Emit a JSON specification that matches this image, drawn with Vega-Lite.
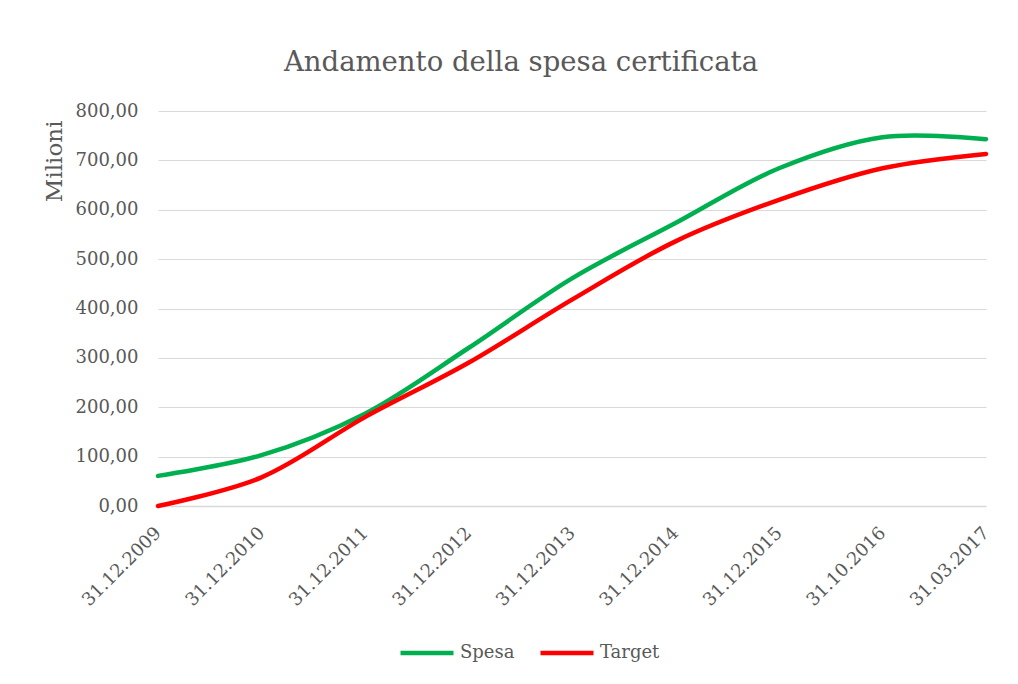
{
  "$schema": "https://vega.github.io/schema/vega-lite/v6.json",
  "width": 828,
  "height": 395,
  "autosize": "none",
  "padding": {"left": 158, "top": 111, "right": 32, "bottom": 178},
  "background": "white",
  "title": {
    "text": "Andamento  della spesa certificata",
    "font": "DejaVu Serif",
    "fontSize": 27.5,
    "fontWeight": "normal",
    "color": "#595959",
    "anchor": "middle",
    "dx": -51,
    "offset": 26
  },
  "data": {
    "values": [
      {"data": "31.12.2009", "serie": "Spesa", "valore": 61},
      {"data": "31.12.2010", "serie": "Spesa", "valore": 103},
      {"data": "31.12.2011", "serie": "Spesa", "valore": 187},
      {"data": "31.12.2012", "serie": "Spesa", "valore": 320},
      {"data": "31.12.2013", "serie": "Spesa", "valore": 461},
      {"data": "31.12.2014", "serie": "Spesa", "valore": 573},
      {"data": "31.12.2015", "serie": "Spesa", "valore": 684},
      {"data": "31.10.2016", "serie": "Spesa", "valore": 747},
      {"data": "31.03.2017", "serie": "Spesa", "valore": 743},
      {"data": "31.12.2009", "serie": "Target", "valore": 0},
      {"data": "31.12.2010", "serie": "Target", "valore": 58},
      {"data": "31.12.2011", "serie": "Target", "valore": 180},
      {"data": "31.12.2012", "serie": "Target", "valore": 290},
      {"data": "31.12.2013", "serie": "Target", "valore": 418},
      {"data": "31.12.2014", "serie": "Target", "valore": 536},
      {"data": "31.12.2015", "serie": "Target", "valore": 620},
      {"data": "31.10.2016", "serie": "Target", "valore": 684},
      {"data": "31.03.2017", "serie": "Target", "valore": 713}
    ]
  },
  "mark": {"type": "line", "interpolate": "catmull-rom", "strokeWidth": 4.5, "strokeCap": "round"},
  "encoding": {
    "x": {
      "field": "data",
      "type": "ordinal",
      "sort": ["31.12.2009", "31.12.2010", "31.12.2011", "31.12.2012", "31.12.2013", "31.12.2014", "31.12.2015", "31.10.2016", "31.03.2017"],
      "scale": {"type": "point", "padding": 0},
      "axis": {
        "title": null,
        "labelAngle": -45,
        "labelAlign": "right",
        "labelBaseline": "middle",
        "labelPadding": 24,
        "labelFont": "DejaVu Serif",
        "labelFontSize": 18,
        "labelColor": "#595959",
        "ticks": false,
        "domain": true,
        "domainColor": "#D9D9D9",
        "domainWidth": 1.5,
        "grid": false
      }
    },
    "y": {
      "field": "valore",
      "type": "quantitative",
      "scale": {"domain": [0, 800], "nice": false},
      "axis": {
        "title": "Milioni",
        "titleFont": "DejaVu Serif",
        "titleFontSize": 23,
        "titleFontWeight": "normal",
        "titleColor": "#595959",
        "titleAngle": -90,
        "titleAlign": "right",
        "titleBaseline": "middle",
        "titleX": -104,
        "titleY": 9,
        "values": [0, 100, 200, 300, 400, 500, 600, 700, 800],
        "labelExpr": "replace(format(datum.value, '.2f'), '.', ',')",
        "labelFont": "DejaVu Serif",
        "labelFontSize": 18,
        "labelColor": "#595959",
        "labelPadding": 20,
        "ticks": false,
        "domain": false,
        "grid": true,
        "gridColor": "#D9D9D9",
        "gridWidth": 1
      }
    },
    "color": {
      "field": "serie",
      "type": "nominal",
      "scale": {"domain": ["Spesa", "Target"], "range": ["#00B050", "#FF0000"]},
      "legend": {
        "title": null,
        "orient": "none",
        "direction": "horizontal",
        "legendX": 240,
        "legendY": 513,
        "symbolType": "stroke",
        "symbolSize": 2809,
        "symbolStrokeWidth": 4.5,
        "labelFont": "DejaVu Serif",
        "labelFontSize": 18,
        "labelColor": "#595959",
        "labelOffset": 4,
        "columnPadding": 16
      }
    }
  },
  "config": {
    "view": {"stroke": null}
  }
}
